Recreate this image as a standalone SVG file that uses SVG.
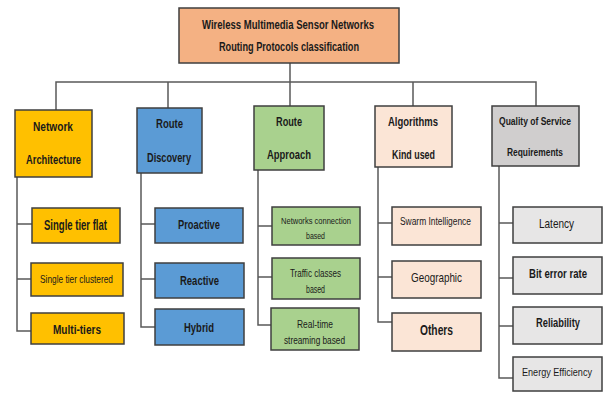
<svg xmlns="http://www.w3.org/2000/svg" width="606" height="394" viewBox="0 0 606 394">
<style>
.box{stroke:#3f3f3f;stroke-width:1.5}
.title{fill:#F4B183}
.org{fill:#FFC000}
.blu{fill:#5B9BD5}
.grn{fill:#A9D18E}
.pch{fill:#FBE5D6}
.gry{fill:#D0CECE}
.lgr{fill:#E7E6E6}
text{font-family:"Liberation Sans","Noto Sans",sans-serif;fill:#1a1a1a;text-anchor:middle;font-weight:bold}
.n{font-weight:normal}
#connectors path{fill:none;stroke:#595959;stroke-width:1.5}
</style>
<rect width="606" height="394" fill="#ffffff"/>
<g id="connectors">
<path d="M290 63V106"/>
<path d="M56 110V82H536V106"/>
<path d="M168 108V82"/>
<path d="M413 106V82"/>
<path d="M17 177V331H31M17 224H32M17 279H31"/>
<path d="M141 173V327H155M141 224H155M141 279H155"/>
<path d="M258 170V325H271M258 226H272M258 277H272"/>
<path d="M378 167V322H392M378 223H392M378 277H392"/>
<path d="M499 166V378H513M499 223H513M499 278H513M499 326H513"/>
</g>
<g id="title">
<rect class="box title" x="179" y="8" width="220" height="55"/>
<text x="288" y="28.5" font-size="12.5" textLength="172" lengthAdjust="spacingAndGlyphs">Wireless Multimedia Sensor Networks</text>
<text x="289" y="50.5" font-size="12.5" textLength="140" lengthAdjust="spacingAndGlyphs">Routing Protocols classification</text>
</g>
<g id="network-architecture">
<rect class="box org" x="15" y="110" width="77" height="67"/>
<text x="53" y="130.5" font-size="12.5" textLength="40" lengthAdjust="spacingAndGlyphs">Network</text>
<text x="53.5" y="163.5" font-size="12.5" textLength="55" lengthAdjust="spacingAndGlyphs">Architecture</text>
</g>
<g id="route-discovery">
<rect class="box blu" x="137" y="108" width="65" height="65"/>
<text x="169.5" y="127.5" font-size="12.5" textLength="27" lengthAdjust="spacingAndGlyphs">Route</text>
<text x="169" y="161.5" font-size="12.5" textLength="44" lengthAdjust="spacingAndGlyphs">Discovery</text>
</g>
<g id="route-approach">
<rect class="box grn" x="254" y="106" width="70" height="64"/>
<text x="289" y="125.5" font-size="12.5" textLength="26" lengthAdjust="spacingAndGlyphs">Route</text>
<text x="289" y="158.5" font-size="12.5" textLength="44" lengthAdjust="spacingAndGlyphs">Approach</text>
</g>
<g id="algorithms">
<rect class="box pch" x="375" y="106" width="77" height="61"/>
<text x="413" y="125.5" font-size="12.5" textLength="50" lengthAdjust="spacingAndGlyphs">Algorithms</text>
<text x="413.5" y="158.5" font-size="12.5" textLength="43" lengthAdjust="spacingAndGlyphs">Kind used</text>
</g>
<g id="qos">
<rect class="box gry" x="492" y="106" width="87" height="60"/>
<text x="535" y="124.5" font-size="11" textLength="72" lengthAdjust="spacingAndGlyphs">Quality of Service</text>
<text x="535" y="155.5" font-size="11" textLength="56" lengthAdjust="spacingAndGlyphs">Requirements</text>
</g>
<g id="single-tier-flat">
<rect class="box org" x="32" y="208" width="88" height="35"/>
<text x="75.5" y="229.5" font-size="14.5" textLength="63" lengthAdjust="spacingAndGlyphs">Single tier flat</text>
</g>
<g id="single-tier-clustered">
<rect class="box org" x="31" y="263" width="92" height="33"/>
<text x="76.5" y="283" font-size="11" class="n" textLength="73" lengthAdjust="spacingAndGlyphs">Single tier clustered</text>
</g>
<g id="multi-tiers">
<rect class="box org" x="31" y="313" width="93" height="31"/>
<text x="77" y="333.5" font-size="13.5" textLength="48" lengthAdjust="spacingAndGlyphs">Multi-tiers</text>
</g>
<g id="proactive">
<rect class="box blu" x="155" y="208" width="88" height="35"/>
<text x="199" y="229" font-size="13.5" textLength="42" lengthAdjust="spacingAndGlyphs">Proactive</text>
</g>
<g id="reactive">
<rect class="box blu" x="155" y="263" width="89" height="35"/>
<text x="199.5" y="284.5" font-size="13.5" textLength="39" lengthAdjust="spacingAndGlyphs">Reactive</text>
</g>
<g id="hybrid">
<rect class="box blu" x="155" y="309" width="89" height="36"/>
<text x="199" y="331.5" font-size="13.5" textLength="30" lengthAdjust="spacingAndGlyphs">Hybrid</text>
</g>
<g id="networks-connection">
<rect class="box grn" x="272" y="207" width="88" height="38"/>
<text x="316" y="223.5" font-size="9.5" class="n" textLength="70" lengthAdjust="spacingAndGlyphs">Networks connection</text>
<text x="315.5" y="238.5" font-size="9.5" class="n" textLength="19" lengthAdjust="spacingAndGlyphs">based</text>
</g>
<g id="traffic-classes">
<rect class="box grn" x="272" y="258" width="88" height="41"/>
<text x="315.5" y="276.5" font-size="11.5" class="n" textLength="51" lengthAdjust="spacingAndGlyphs">Traffic classes</text>
<text x="315.5" y="292.5" font-size="11.5" class="n" textLength="19" lengthAdjust="spacingAndGlyphs">based</text>
</g>
<g id="real-time">
<rect class="box grn" x="271" y="308" width="88" height="42"/>
<text x="315" y="327.5" font-size="11.5" class="n" textLength="36" lengthAdjust="spacingAndGlyphs">Real-time</text>
<text x="314.5" y="343.5" font-size="11.5" class="n" textLength="61" lengthAdjust="spacingAndGlyphs">streaming based</text>
</g>
<g id="swarm">
<rect class="box pch" x="392" y="207" width="89" height="38"/>
<text x="435.5" y="225" font-size="10" class="n" textLength="71" lengthAdjust="spacingAndGlyphs">Swarm Intelligence</text>
</g>
<g id="geographic">
<rect class="box pch" x="392" y="261" width="89" height="37"/>
<text x="436.5" y="282" font-size="13" class="n" textLength="51" lengthAdjust="spacingAndGlyphs">Geographic</text>
</g>
<g id="others">
<rect class="box pch" x="392" y="313" width="89" height="38"/>
<text x="436.5" y="334.5" font-size="14" textLength="33" lengthAdjust="spacingAndGlyphs">Others</text>
</g>
<g id="latency">
<rect class="box lgr" x="513" y="207" width="89" height="36"/>
<text x="556.5" y="228" font-size="13" class="n" textLength="35" lengthAdjust="spacingAndGlyphs">Latency</text>
</g>
<g id="bit-error-rate">
<rect class="box lgr" x="513" y="257" width="89" height="37"/>
<text x="558" y="277.5" font-size="12.5" textLength="58" lengthAdjust="spacingAndGlyphs">Bit error rate</text>
</g>
<g id="reliability">
<rect class="box lgr" x="513" y="307" width="89" height="37"/>
<text x="558" y="327" font-size="13" textLength="44" lengthAdjust="spacingAndGlyphs">Reliability</text>
</g>
<g id="energy-efficiency">
<rect class="box lgr" x="513" y="357" width="89" height="34"/>
<text x="557" y="375.5" font-size="11" class="n" textLength="70" lengthAdjust="spacingAndGlyphs">Energy Efficiency</text>
</g>
</svg>
